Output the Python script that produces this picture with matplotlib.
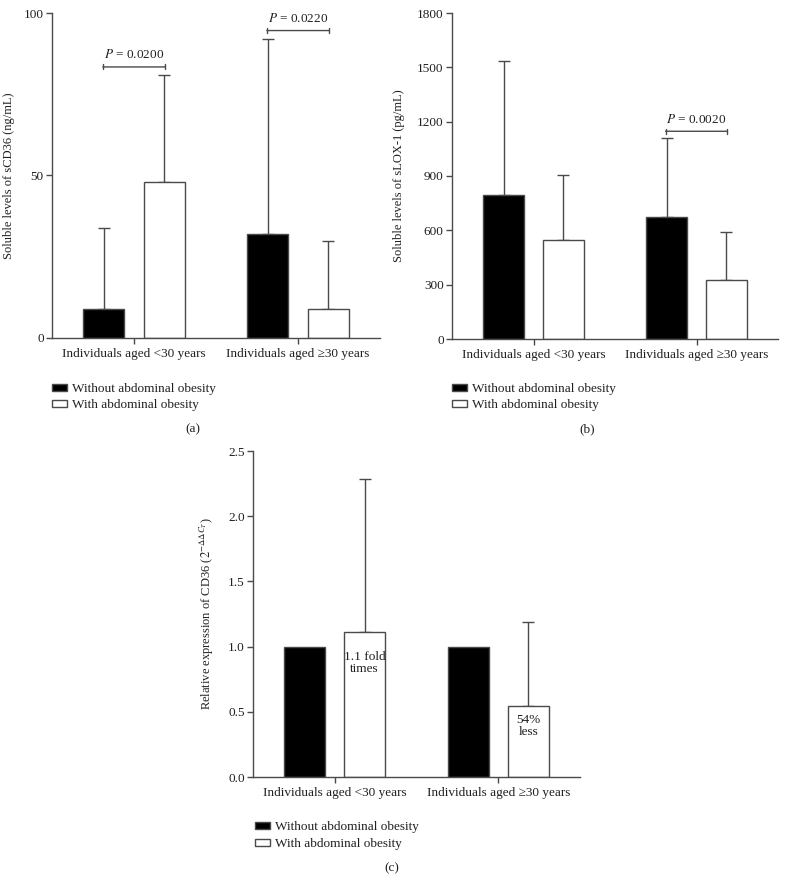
import matplotlib
matplotlib.use('Agg')
import matplotlib.pyplot as plt
from matplotlib.patches import Patch
import numpy as np

plt.rcParams['font.family'] = ['Liberation Serif', 'DejaVu Serif']
plt.rcParams['mathtext.fontset'] = 'stix'

# === Данные ===
groups = ['Individuals aged <30 years', 'Individuals aged \u226530 years']
series = ['Without abdominal obesity', 'With abdominal obesity']

# (a) sCD36, ng/mL
cd36_mean_without = [8.9, 31.9]
cd36_top_without = [33.7, 92.0]
cd36_mean_with = [47.9, 8.9]
cd36_top_with = [81.0, 29.9]

# (b) sLOX-1, pg/mL
lox_mean_without = [794, 675]
lox_top_without = [1533, 1112]
lox_mean_with = [546, 325]
lox_top_with = [908, 592]

# (c) relative expression of CD36
rel_mean_without = [1.0, 1.0]
rel_top_without = [None, None]
rel_mean_with = [1.112, 0.542]
rel_top_with = [2.288, 1.189]

# P-значения: (группа, высота, текст)
pvals_a = [(0, 83.4, '0.0200'), (1, 94.6, '0.0220')]
pvals_b = [(1, 1147, '0.0020')]

W, H = 787, 894
fig = plt.figure(figsize=(W / 100, H / 100), dpi=100)

AX = '#4a4a4a'
TXT = '#231f20'
FS = 9.5
off = 0.183
bw = 0.25


def px_axes(l, t, r, b):
    return fig.add_axes([l / W, 1 - b / H, (r - l) / W, (b - t) / H])


def draw_panel(ax, mw, tw, mo, to, ylim, yticks, ylabel, labx):
    x = np.arange(len(groups))
    ax.bar(x - off, mw, bw, color='black', edgecolor=AX, linewidth=1, zorder=2)
    ax.bar(x + off, mo, bw, color='white', edgecolor=AX, linewidth=1, zorder=2)
    for xs, m, t in [(x - off, mw, tw), (x + off, mo, to)]:
        for xi, mi, ti in zip(xs, m, t):
            if ti is None:
                continue
            ax.errorbar(xi, mi, yerr=[[0], [ti - mi]], fmt='none',
                        ecolor=AX, elinewidth=1, capsize=4.3, capthick=1, zorder=1)
    ax.set_xlim(-0.5, 1.5)
    ax.set_ylim(*ylim)
    ax.set_yticks(yticks)
    ax.set_xticks(x)
    ax.set_xticklabels(groups, fontsize=FS, color=TXT)
    ax.tick_params(axis='y', labelsize=FS, labelcolor=TXT, color=AX,
                   length=4, width=1, direction='out', pad=2)
    ax.tick_params(axis='x', color=AX, length=4, width=1, pad=3)
    for s in ['top', 'right']:
        ax.spines[s].set_visible(False)
    for s in ['left', 'bottom']:
        ax.spines[s].set_color(AX)
        ax.spines[s].set_linewidth(1)
    ax.set_ylabel(ylabel, fontsize=9, color=TXT)
    ax.yaxis.set_label_coords(labx, 0.5)


def draw_p(ax, pv):
    for g, yv, txt in pv:
        ax.annotate('', xy=(g - 0.19, yv), xytext=(g + 0.19, yv),
                    arrowprops=dict(arrowstyle='|-|,widthA=0.18,widthB=0.18',
                                    color=AX, lw=1, shrinkA=0, shrinkB=0))
        ax.annotate('$P$ = ' + txt, xy=(g, yv), xytext=(0, 4),
                    textcoords='offset points', ha='center', va='bottom',
                    fontsize=FS, color=TXT)


def draw_legend(lx, ty, spacing):
    hs = [Patch(facecolor='black', edgecolor=AX, linewidth=1),
          Patch(facecolor='white', edgecolor=AX, linewidth=1)]
    fig.legend(hs, series, loc='upper left', bbox_to_anchor=(lx / W, 1 - ty / H),
               frameon=False, fontsize=FS, handlelength=1.1, handleheight=0.45,
               handletextpad=0.45, labelspacing=spacing, borderpad=0, borderaxespad=0,
               labelcolor=TXT)


# (a)
ax1 = px_axes(52, 13, 380, 338)
draw_panel(ax1, cd36_mean_without, cd36_top_without, cd36_mean_with, cd36_top_with,
           (0, 100), [0, 50, 100], 'Soluble levels of sCD36 (ng/mL)', -0.113)
draw_p(ax1, pvals_a)
draw_legend(52, 383, 0.33)
fig.text(193 / W, 1 - 429 / H, '(a)', ha='center', va='center', fontsize=FS, color=TXT)

# (b)
ax2 = px_axes(452, 13, 778, 339)
draw_panel(ax2, lox_mean_without, lox_top_without, lox_mean_with, lox_top_with,
           (0, 1800), [0, 300, 600, 900, 1200, 1500, 1800],
           'Soluble levels of sLOX-1 (pg/mL)', -0.144)
draw_p(ax2, pvals_b)
draw_legend(452, 383, 0.33)
fig.text(587 / W, 1 - 429 / H, '(b)', ha='center', va='center', fontsize=FS, color=TXT)

# (c)
ax3 = px_axes(253, 451, 580, 777)
draw_panel(ax3, rel_mean_without, rel_top_without, rel_mean_with, rel_top_with,
           (0, 2.5), [0.0, 0.5, 1.0, 1.5, 2.0, 2.5],
           r'Relative expression of CD36 ($2^{-\Delta\Delta C_T}$)', -0.113)
ax3.yaxis.set_major_formatter(matplotlib.ticker.FormatStrFormatter('%.1f'))
ax3.text(0 + off, 0.874, '1.1 fold\ntimes', ha='center', va='center',
         fontsize=FS, color=TXT, linespacing=1.0)
ax3.text(1 + off, 0.389, '54%\nless', ha='center', va='center',
         fontsize=FS, color=TXT, linespacing=1.0)
draw_legend(255, 821, 0.38)
fig.text(392 / W, 1 - 868 / H, '(c)', ha='center', va='center', fontsize=FS, color=TXT)

fig.savefig('out.png', dpi=100)
